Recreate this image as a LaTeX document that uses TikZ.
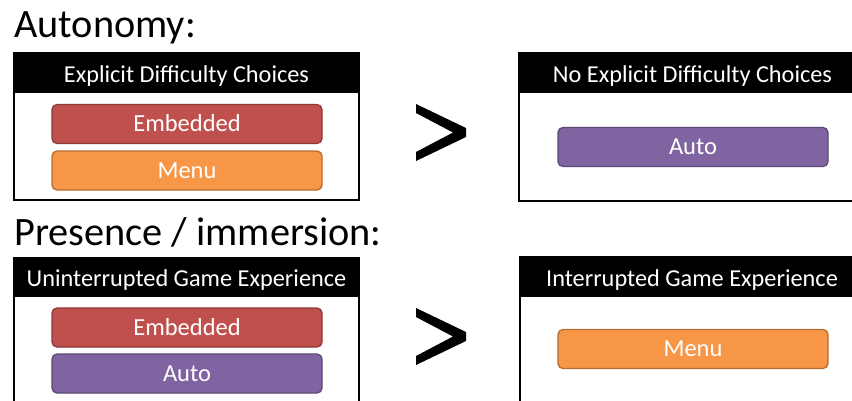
\documentclass[tikz,border=0pt]{standalone}
\usepackage{fontspec}
\setmainfont{Carlito}
\definecolor{embfill}{HTML}{C0504D}
\definecolor{embline}{HTML}{8C3836}
\definecolor{menufill}{HTML}{F79646}
\definecolor{menuline}{HTML}{B66D31}
\definecolor{autofill}{HTML}{8064A2}
\definecolor{autoline}{HTML}{5C4776}
\tikzset{
  title/.style={anchor=base west, inner sep=0pt, font=\fontsize{40.3}{44}\selectfont},
  frame/.style={draw=black, line width=2pt, fill=white, inner sep=0pt},
  headtext/.style={text=white, inner sep=0pt, anchor=base, font=\fontsize{24.3}{28}\selectfont},
  header/.style={fill=black, inner sep=0pt},
  btn/.style={rounded corners=5pt, line width=1.3pt, minimum width=270pt, minimum height=39pt, inner sep=0pt, text=white, font=\fontsize{24.5}{28}\selectfont, text height=15.5pt, text depth=0pt},
  emb/.style={btn, fill=embfill, draw=embline},
  menu/.style={btn, fill=menufill, draw=menuline},
  auto/.style={btn, fill=autofill, draw=autoline},
  gt/.style={fill=black},
}
\begin{document}
\begin{tikzpicture}[x=1pt,y=-1pt]
\useasboundingbox (0,0) rectangle (852,400);
\clip (0,0) rectangle (852,400);
% titles
\node[title] (t1) at (14,37) {Autonomy:};
\node[title] (t2) at (14,245) {Presence / immersion:};
% top-left box
\node[frame, minimum width=345pt, minimum height=147pt] (f1) at (186.5,126.5) {};
\node[header, minimum width=345pt, minimum height=40pt] (h1) at (186.5,73) {};
\node[headtext] (h1t) at (186.5,82) {Explicit Difficulty Choices};
\node[emb] (e1) at (187,124) {Embedded};
\node[menu] (m1) at (187,170.5) {Menu};
% top-right box
\node[frame, minimum width=351pt, minimum height=148pt] (f2) at (694.5,127) {};
\node[header, minimum width=351pt, minimum height=40pt] (h2) at (694.5,73) {};
\node[headtext] (h2t) at (692.5,82) {No Explicit Difficulty Choices};
\node[auto] (a1) at (693,147) {Auto};
% bottom-left box
\node[frame, minimum width=345pt, minimum height=160pt] (f3) at (186.5,338) {};
\node[header, minimum width=345pt, minimum height=39pt] (h3) at (186.5,277.5) {};
\node[headtext] (h3t) at (186.5,286) {Uninterrupted Game Experience};
\node[emb] (e2) at (187,327.5) {Embedded};
\node[auto] (a2) at (187,373.5) {Auto};
% bottom-right box
\node[frame, minimum width=350pt, minimum height=160pt] (f4) at (695,337) {};
\node[header, minimum width=350pt, minimum height=40pt] (h4) at (695,277) {};
\node[headtext] (h4t) at (692,286) {Interrupted Game Experience};
\node[menu] (m2) at (693,349) {Menu};
% greater-than signs
\fill[gt] (416,104) -- (466,128) -- (466,137) -- (416,161) -- (416,152) -- (453,132.5) -- (416,113) -- cycle;
\fill[gt] (416,308) -- (466,332) -- (466,341) -- (416,365) -- (416,356) -- (453,336.5) -- (416,317) -- cycle;
\end{tikzpicture}
\end{document}
